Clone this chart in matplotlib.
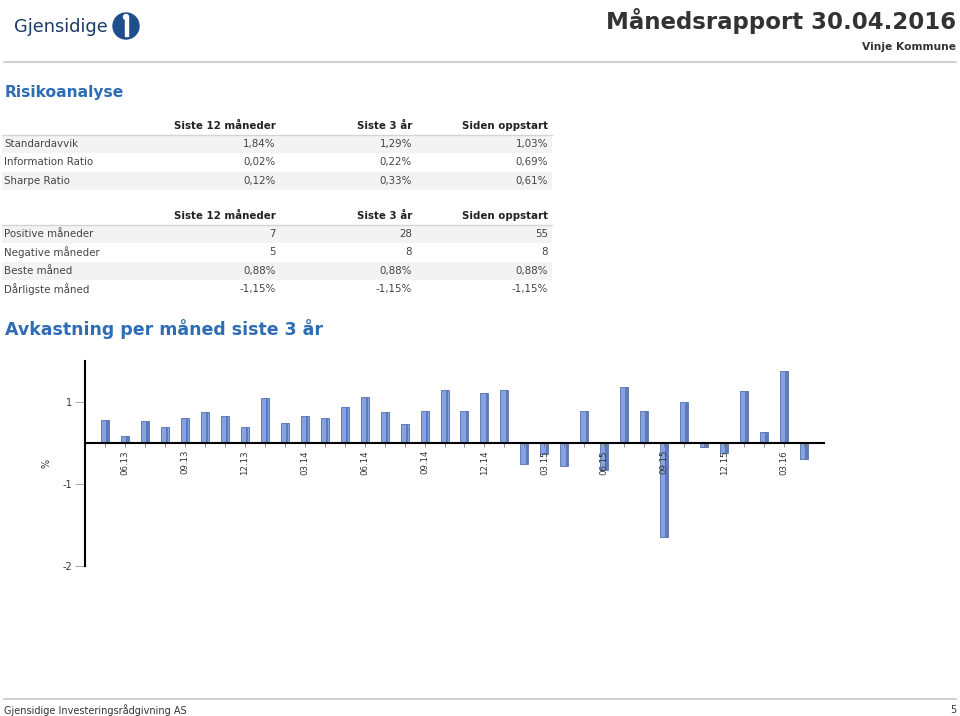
import matplotlib.pyplot as plt
from matplotlib.patches import Rectangle, Circle
import numpy as np

# --- data ---
months = ['05.13', '06.13', '07.13', '08.13', '09.13', '10.13', '11.13', '12.13',
          '01.14', '02.14', '03.14', '04.14', '05.14', '06.14', '07.14', '08.14',
          '09.14', '10.14', '11.14', '12.14', '01.15', '02.15', '03.15', '04.15',
          '05.15', '06.15', '07.15', '08.15', '09.15', '10.15', '11.15', '12.15',
          '01.16', '02.16', '03.16', '04.16']
returns = [0.28, 0.085, 0.27, 0.20, 0.30, 0.38, 0.33, 0.195, 0.55, 0.25, 0.33, 0.30,
           0.44, 0.56, 0.38, 0.23, 0.39, 0.65, 0.39, 0.61, 0.65, -0.26, -0.13, -0.28,
           0.39, -0.33, 0.68, 0.39, -1.15, 0.50, -0.05, -0.12, 0.63, 0.14, 0.88, -0.19]
shown_months = ['06.13', '09.13', '12.13', '03.14', '06.14', '09.14',
                '12.14', '03.15', '06.15', '09.15', '12.15', '03.16']
ytick_vals = [0.5, -0.5, -1.5]
ytick_labels = ['1', '-1', '-2']

col_headers = ['Siste 12 måneder', 'Siste 3 år', 'Siden oppstart']
risk_rows = ['Standardavvik', 'Information Ratio', 'Sharpe Ratio']
risk_vals = [['1,84%', '1,29%', '1,03%'],
             ['0,02%', '0,22%', '0,69%'],
             ['0,12%', '0,33%', '0,61%']]
month_rows = ['Positive måneder', 'Negative måneder', 'Beste måned', 'Dårligste måned']
month_vals = [['7', '28', '55'],
              ['5', '8', '8'],
              ['0,88%', '0,88%', '0,88%'],
              ['-1,15%', '-1,15%', '-1,15%']]

W, H = 960, 716
fig = plt.figure(figsize=(9.6, 7.16), dpi=100)

# overlay in pixel coords for page elements
page = fig.add_axes([0, 0, 1, 1])
page.set_xlim(0, W)
page.set_ylim(H, 0)
page.axis('off')

blue = '#2e6db4'
grey_txt = '#444444'

# logo
page.text(14, 27, 'Gjensidige', fontsize=12.8, color='#1b3a66', va='center', ha='left')
page.add_patch(Circle((126, 26), 13, color='#1f4e8e'))
page.add_patch(Rectangle((124.5, 17), 3, 19, color='white'))
page.add_patch(Circle((126, 17), 2.5, color='white'))

# header
page.text(956, 21, 'Månedsrapport 30.04.2016', fontsize=16.5, fontweight='bold',
          color='#333333', ha='right', va='center')
page.text(956, 47, 'Vinje Kommune', fontsize=7.7, fontweight='bold',
          color='#333333', ha='right', va='center')
page.plot([4, 956], [62, 62], color='#c8c8c8', lw=1.2)

page.text(5, 93, 'Risikoanalyse', fontsize=11.2, fontweight='bold', color=blue,
          va='center', ha='left')

col_x = [276, 412, 548]


def draw_table(top, rows, vals):
    for j, h in enumerate(col_headers):
        page.text(col_x[j], top, h, fontsize=7.4, fontweight='bold', color='#222222',
                  ha='right', va='center')
    page.plot([2, 552], [top + 8.5, top + 8.5], color='#d4d4d4', lw=1)
    for i, (name, row) in enumerate(zip(rows, vals)):
        y = top + 18.2 * (i + 1)
        if i % 2 == 0:
            page.add_patch(Rectangle((2, y - 9), 550, 18, color='#f3f3f3', lw=0))
        page.text(4, y, name, fontsize=7.4, color=grey_txt, ha='left', va='center')
        for j, v in enumerate(row):
            page.text(col_x[j], y, v, fontsize=7.4, color=grey_txt, ha='right', va='center')


draw_table(126, risk_rows, risk_vals)
draw_table(216, month_rows, month_vals)

page.text(5, 329, 'Avkastning per måned siste 3 år', fontsize=12.5, fontweight='bold',
          color=blue, va='center', ha='left')

# footer
page.plot([4, 956], [699, 699], color='#c8c8c8', lw=1.2)
page.text(4, 710, 'Gjensidige Investeringsrådgivning AS', fontsize=7, color='#333333',
          va='center', ha='left')
page.text(956, 710, '5', fontsize=7, color='#333333', va='center', ha='right')

# --- chart ---
ax = fig.add_axes([85 / W, 1 - 566 / H, (824 - 85) / W, 205 / H])
x = np.arange(len(returns))
ax.bar(x, returns, width=0.4, color='#86a3df', edgecolor='#5470aa', linewidth=0.6)
# darker right side for the shaded look
ax.bar(x + 0.12, returns, width=0.12, color='#5d7aba', linewidth=0)

ax.set_xlim(-1, 36)
ax.set_ylim(-1.5, 1.0)
ax.spines['top'].set_visible(False)
ax.spines['right'].set_visible(False)
ax.spines['bottom'].set_position(('data', 0))
ax.spines['bottom'].set_linewidth(1.5)
ax.spines['left'].set_linewidth(1.5)

ax.set_xticks([months.index(m) for m in shown_months])
ax.set_xticklabels(shown_months, rotation=90, fontsize=6.2, color='#333333')
ax.set_xticks(x, minor=True)
ax.tick_params(axis='x', which='both', length=3, width=0.6, color='#777777', pad=2)
ax.set_yticks(ytick_vals)
ax.set_yticklabels(ytick_labels, fontsize=7, color='#333333')
ax.tick_params(axis='y', length=7, width=0.6, color='#999999', pad=2)
ax.patch.set_alpha(0)

fig.text(47 / W, 1 - 463 / H, '%', rotation=90, fontsize=7, color='#333333',
         ha='center', va='center')

fig.savefig('out.png', dpi=100)
